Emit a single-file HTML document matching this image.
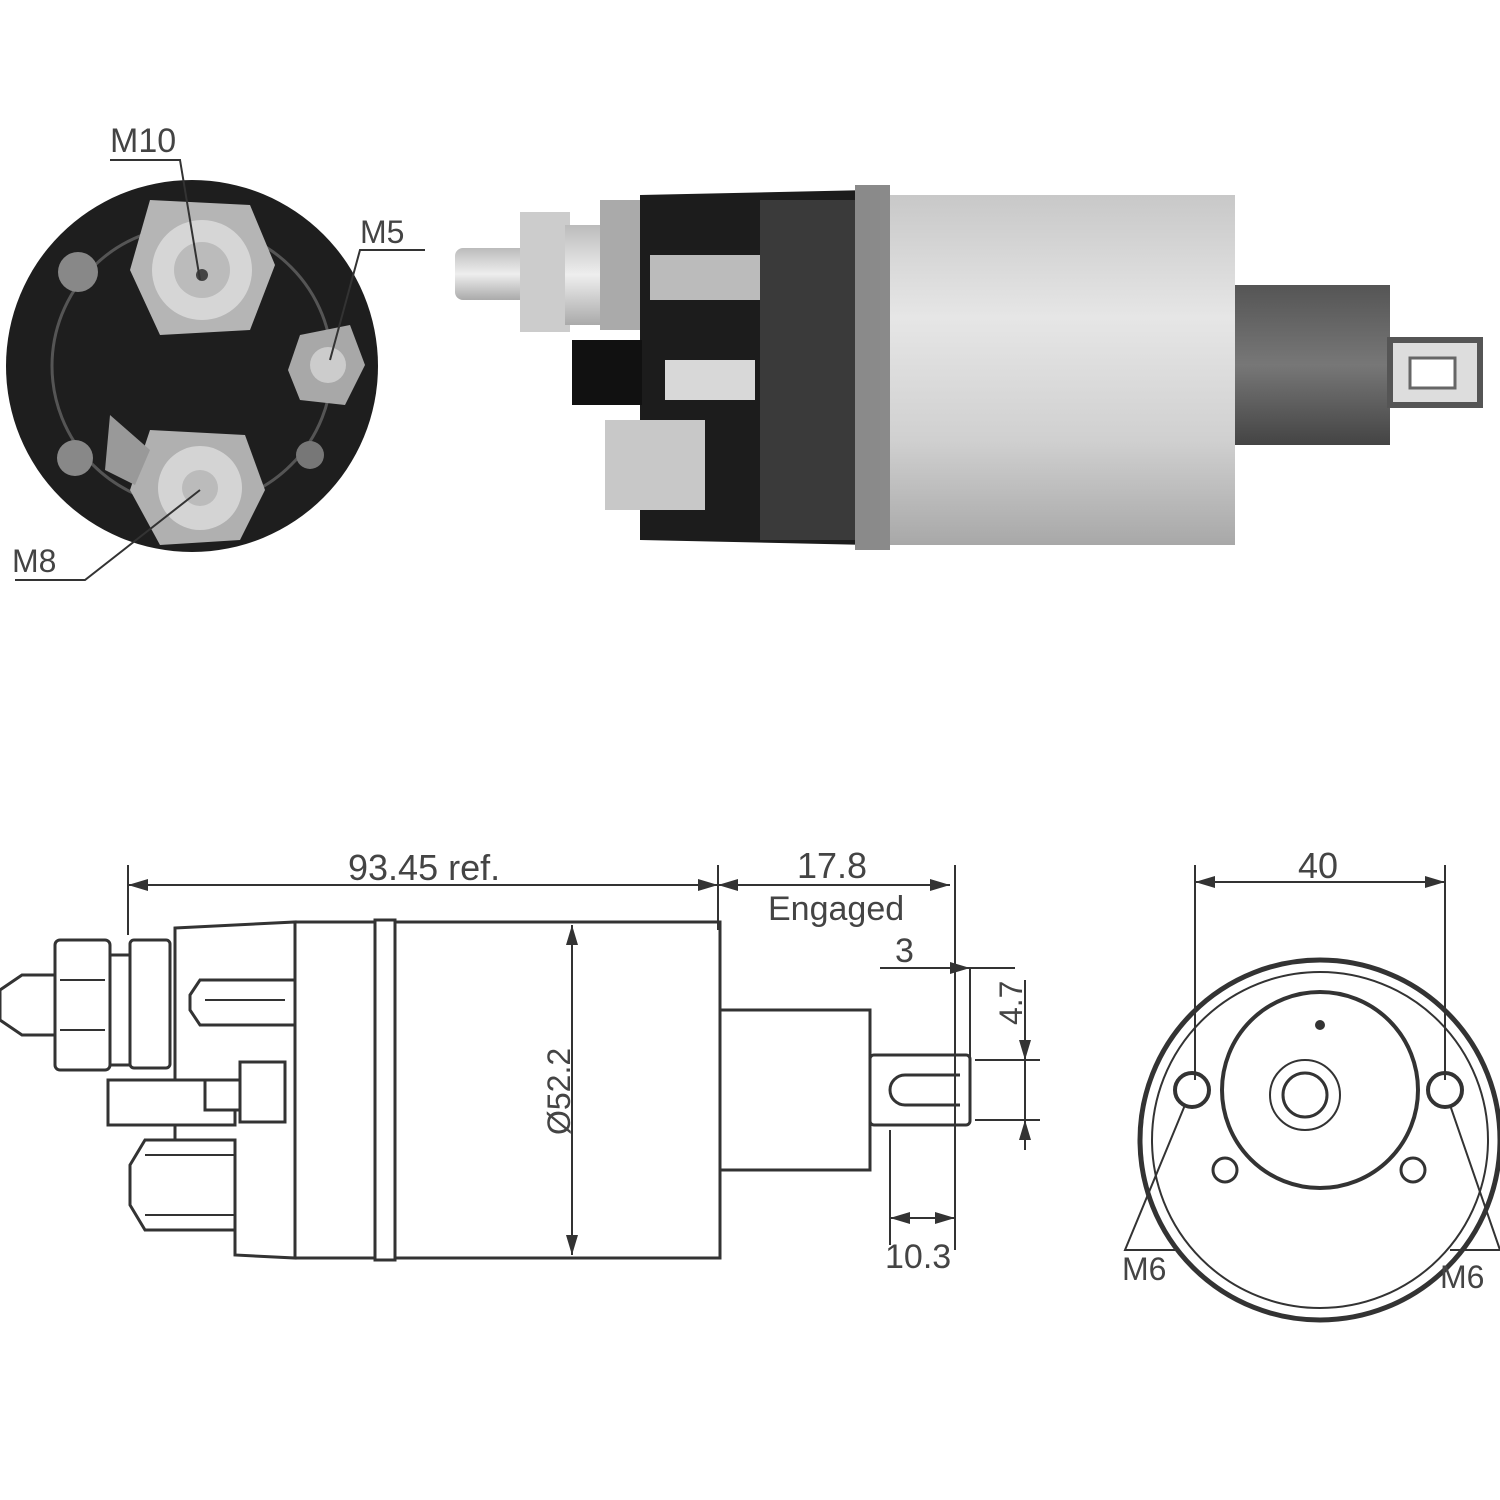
<!DOCTYPE html>
<html><head><style>html,body{margin:0;padding:0;background:#fff}svg{display:block}text{font-family:"Liberation Sans",sans-serif;fill:#444}</style></head>
<body>
<svg width="1500" height="1500" viewBox="0 0 1500 1500" xmlns="http://www.w3.org/2000/svg">
<defs>
<linearGradient id="cyl" x1="0" y1="0" x2="0" y2="1">
<stop offset="0" stop-color="#c8c8c8"/><stop offset="0.35" stop-color="#e6e6e6"/><stop offset="0.7" stop-color="#d0d0d0"/><stop offset="1" stop-color="#a8a8a8"/></linearGradient>
<linearGradient id="plg" x1="0" y1="0" x2="0" y2="1">
<stop offset="0" stop-color="#555"/><stop offset="0.5" stop-color="#777"/><stop offset="1" stop-color="#444"/></linearGradient>
<linearGradient id="stud" x1="0" y1="0" x2="0" y2="1">
<stop offset="0" stop-color="#bbb"/><stop offset="0.5" stop-color="#eee"/><stop offset="1" stop-color="#aaa"/></linearGradient>
</defs>
<!-- top-left end photo -->
<circle cx="192" cy="366" r="186" fill="#1e1e1e"/>
<circle cx="192" cy="366" r="140" fill="none" stroke="#555" stroke-width="3"/>
<polygon points="150,200 250,205 275,265 250,330 160,335 130,270" fill="#b5b5b5"/>
<circle cx="202" cy="270" r="50" fill="#d6d6d6"/><circle cx="202" cy="270" r="28" fill="#bbb"/><circle cx="202" cy="275" r="6" fill="#444"/>
<polygon points="300,335 350,325 365,365 345,405 300,400 288,370" fill="#a8a8a8"/><circle cx="328" cy="365" r="18" fill="#ccc"/>
<polygon points="150,430 245,435 265,490 240,540 160,545 130,490" fill="#b0b0b0"/>
<circle cx="200" cy="488" r="42" fill="#d4d4d4"/><circle cx="200" cy="488" r="18" fill="#bbb"/>
<circle cx="78" cy="272" r="20" fill="#888"/><circle cx="75" cy="458" r="18" fill="#888"/><circle cx="310" cy="455" r="14" fill="#777"/>
<path d="M110 415 L150 450 L135 485 L105 470Z" fill="#999"/>
<g stroke="#333" stroke-width="2" fill="none">
<polyline points="110,160 180,160 200,280"/>
<polyline points="425,250 360,250 330,360"/>
<polyline points="15,580 85,580 200,490"/>
</g>
<text x="110" y="152" font-size="34">M10</text>
<text x="360" y="243" font-size="32">M5</text>
<text x="12" y="572" font-size="32">M8</text>
<!-- top-right solenoid photo -->
<rect x="455" y="248" width="75" height="52" rx="8" fill="url(#stud)"/>
<rect x="520" y="212" width="50" height="120" fill="#ccc"/>
<rect x="565" y="225" width="45" height="100" fill="url(#stud)"/>
<rect x="600" y="200" width="50" height="130" fill="#aaa"/>
<path d="M640 195 L870 190 L870 545 L640 540Z" fill="#1c1c1c"/>
<rect x="650" y="255" width="110" height="45" fill="#bbb"/>
<rect x="572" y="340" width="70" height="65" fill="#111"/>
<rect x="665" y="360" width="90" height="40" fill="#d8d8d8"/>
<rect x="605" y="420" width="100" height="90" fill="#c8c8c8"/>
<rect x="760" y="200" width="95" height="340" fill="#3a3a3a"/>
<rect x="855" y="185" width="35" height="365" fill="#8a8a8a"/>
<rect x="890" y="195" width="345" height="350" fill="url(#cyl)"/>
<rect x="1235" y="285" width="155" height="160" fill="url(#plg)"/>
<rect x="1390" y="340" width="90" height="65" fill="#ddd" stroke="#555" stroke-width="6"/>
<rect x="1410" y="358" width="45" height="30" fill="#fff" stroke="#666" stroke-width="3"/>
<!-- bottom drawing -->
<g stroke="#333" stroke-width="3" fill="#fff">
<path d="M0 990 L22 975 L55 975 L55 1035 L22 1035 L0 1020Z"/>
<rect x="55" y="940" width="55" height="130" rx="5"/>
<rect x="110" y="955" width="20" height="110"/>
<rect x="130" y="940" width="40" height="128" rx="4"/>
<path d="M175 928 L295 922 L295 1258 L235 1255 L235 1215 L175 1215Z"/>
<rect x="108" y="1080" width="127" height="45"/>
<path d="M190 995 L200 980 L295 980 L295 1025 L200 1025 L190 1010Z"/>
<rect x="205" y="1080" width="35" height="30"/>
<rect x="240" y="1062" width="45" height="60"/>
<path d="M130 1165 L145 1140 L235 1140 L235 1230 L145 1230 L130 1205Z"/>
<rect x="295" y="922" width="80" height="336"/>
<rect x="375" y="920" width="20" height="340"/>
<rect x="395" y="922" width="325" height="336"/>
<rect x="720" y="1010" width="150" height="160"/>
<rect x="870" y="1055" width="100" height="70" rx="4"/>
<path d="M960 1075 L905 1075 A15 15 0 0 0 905 1105 L960 1105" fill="none"/>
</g>
<line x1="205" y1="1000" x2="285" y2="1000" stroke="#333" stroke-width="2"/>
<line x1="145" y1="1155" x2="235" y2="1155" stroke="#333" stroke-width="2"/>
<line x1="145" y1="1215" x2="235" y2="1215" stroke="#333" stroke-width="2"/>
<line x1="60" y1="980" x2="105" y2="980" stroke="#333" stroke-width="2"/>
<line x1="60" y1="1030" x2="105" y2="1030" stroke="#333" stroke-width="2"/>
<!-- dimensions -->
<g stroke="#333" stroke-width="2" fill="none">
<line x1="128" y1="865" x2="128" y2="935"/>
<line x1="718" y1="865" x2="718" y2="930"/>
<line x1="128" y1="885" x2="718" y2="885"/>
<line x1="718" y1="885" x2="950" y2="885"/>
<line x1="955" y1="865" x2="955" y2="1250"/>
<line x1="880" y1="968" x2="1015" y2="968"/>
<line x1="970" y1="968" x2="970" y2="1060"/>
<line x1="1025" y1="980" x2="1025" y2="1150"/>
<line x1="975" y1="1060" x2="1040" y2="1060"/>
<line x1="975" y1="1120" x2="1040" y2="1120"/>
<line x1="572" y1="925" x2="572" y2="1255"/>
<line x1="890" y1="1130" x2="890" y2="1245"/>
<line x1="890" y1="1218" x2="955" y2="1218"/>
<line x1="1195" y1="865" x2="1195" y2="1080"/>
<line x1="1445" y1="865" x2="1445" y2="1080"/>
<line x1="1195" y1="882" x2="1445" y2="882"/>
</g>
<g fill="#333">
<polygon points="128,885 148,879 148,891"/><polygon points="718,885 698,879 698,891"/>
<polygon points="718,885 738,879 738,891"/><polygon points="950,885 930,879 930,891"/>
<polygon points="572,925 566,945 578,945"/><polygon points="572,1255 566,1235 578,1235"/>
<polygon points="890,1218 910,1212 910,1224"/><polygon points="955,1218 935,1212 935,1224"/>
<polygon points="1195,882 1215,876 1215,888"/><polygon points="1445,882 1425,876 1425,888"/>
<polygon points="970,968 950,962 950,974"/><polygon points="1025,1060 1019,1040 1031,1040"/><polygon points="1025,1120 1019,1140 1031,1140"/>
</g>
<text x="348" y="880" font-size="36">93.45 ref.</text>
<text x="797" y="878" font-size="36">17.8</text>
<text x="768" y="920" font-size="34">Engaged</text>
<text x="895" y="962" font-size="34">3</text>
<text x="0" y="0" font-size="32" transform="translate(1022,1025) rotate(-90)">4.7</text>
<text x="0" y="0" font-size="32" transform="translate(570,1135) rotate(-90)">Ø52.2</text>
<text x="885" y="1268" font-size="34">10.3</text>
<text x="1298" y="878" font-size="36">40</text>
<!-- end view -->
<g stroke="#333" fill="none">
<circle cx="1320" cy="1140" r="180" stroke-width="5"/>
<circle cx="1320" cy="1140" r="168" stroke-width="2"/>
<circle cx="1320" cy="1090" r="98" stroke-width="4"/>
<circle cx="1305" cy="1095" r="35" stroke-width="2"/>
<circle cx="1305" cy="1095" r="22" stroke-width="3"/>
<circle cx="1192" cy="1090" r="17" stroke-width="4"/>
<circle cx="1445" cy="1090" r="17" stroke-width="4"/>
<circle cx="1225" cy="1170" r="12" stroke-width="3"/>
<circle cx="1413" cy="1170" r="12" stroke-width="3"/>
<polyline points="1185,1105 1125,1250 1175,1250" stroke-width="2"/>
<polyline points="1450,1105 1500,1250 1450,1250" stroke-width="2"/>
</g>
<circle cx="1320" cy="1025" r="5" fill="#333"/>
<text x="1122" y="1280" font-size="32">M6</text>
<text x="1440" y="1288" font-size="32">M6</text>
</svg>
</body></html>
